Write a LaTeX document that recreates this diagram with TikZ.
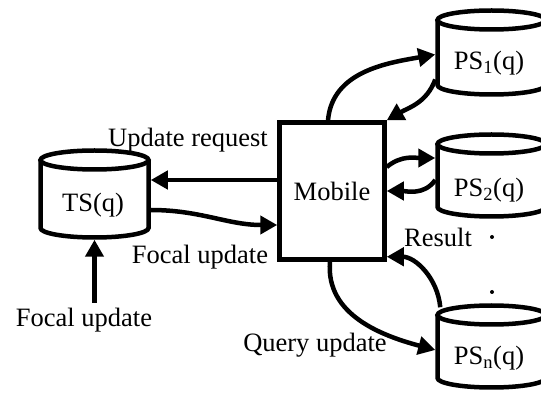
\documentclass[tikz,border=0pt]{standalone}
\usepackage{fontspec}
\setmainfont{Liberation Serif}
\usetikzlibrary{arrows.meta}
\def\drumrx{54}
\newcommand\mydrum[5]{% name, cx, ytop, ybottom, ry
  \node[dbbox, minimum height={#3-#4+4.5}] (#1) at (#2,{(#3+#4)/2}) {};
  \draw[lw] (#2-\drumrx,#3-#5) -- (#2-\drumrx,#4+#5) arc[start angle=180,end angle=360,x radius=\drumrx,y radius=#5] -- (#2+\drumrx,#3-#5);
  \draw[lw] (#2,#3-#5) ellipse[x radius=\drumrx,y radius=#5];
}
\begin{document}
\begin{tikzpicture}[x=1pt,y=1pt,
  lw/.style={line width=4.5pt},
  conn/.style={line width=4.5pt,-{Triangle[length=17pt,width=18pt]}},
  dbbox/.style={inner sep=0pt,outer sep=0pt,minimum width=112.5pt,draw=none},
  lbl/.style={inner sep=0pt,font=\fontsize{26.5}{30}\selectfont},
  mob/.style={draw,line width=4.5pt,minimum width=105pt,minimum height=137pt,inner sep=0pt,font=\fontsize{26.5}{30}\selectfont}]
\clip (0,0) rectangle (541,399);
\fill[white] (0,0) rectangle (541,399);

\node[mob] (mobile) at (332,208) {Mobile};
\mydrum{ts}{94.5}{248.5}{161.5}{9.5}
\mydrum{ps1}{491.5}{388.5}{304.5}{9.5}
\mydrum{ps2}{491.5}{264.5}{182.5}{9.5}
\mydrum{psn}{491.5}{93.5}{11.5}{9.5}

\node[lbl] at ([shift={(-1.5,-11)}]ts.center) {TS(q)};
\node[lbl] at ([shift={(-2.5,-10.5)}]ps1.center) {PS\textsubscript{1}(q)};
\node[lbl] at ([shift={(-2.5,-14.5)}]ps2.center) {PS\textsubscript{2}(q)};
\node[lbl] at ([shift={(-2.5,-11.5)}]psn.center) {PS\textsubscript{n}(q)};

\node[lbl] (lur) at (188,259) {Update request};
\node[lbl] (lfu1) at (200,142) {Focal update};
\node[lbl] (lfu2) at (84,79) {Focal update};
\node[lbl] (lqu) at (315,54) {Query update};
\node[lbl] (lres) at (438,162) {Result};
\fill (492,162) circle (2);
\fill (492,107) circle (2);

\coordinate (fu) at (94.5,96);
\draw[conn] (fu) -- (ts.south);
\draw[conn] ([yshift=11]mobile.west) to[out=180,in=0] ([yshift=14]ts.east);
\draw[conn] ([yshift=-16]ts.east) to[out=0,in=180] ([yshift=-34]mobile.west);
\draw[conn] ([xshift=-4]mobile.north) to[out=85,in=190] ([yshift=-2]ps1.west);
\draw[conn] ([yshift=-27]ps1.west) to[out=250,in=30] (mobile.north east);
\draw[conn] ([yshift=24]mobile.east) to[out=40,in=180] ([yshift=17.5]ps2.west);
\draw[conn] ([yshift=-4.5]ps2.west) to[out=235,in=0] (mobile.east);
\draw[conn] ([xshift=-2]mobile.south) to[out=265,in=165] ([yshift=-3.5]psn.west);
\draw[conn] ([shift={(5,-4)}]psn.north west) to[out=95,in=0] ([yshift=5]mobile.south east);
\end{tikzpicture}
\end{document}
